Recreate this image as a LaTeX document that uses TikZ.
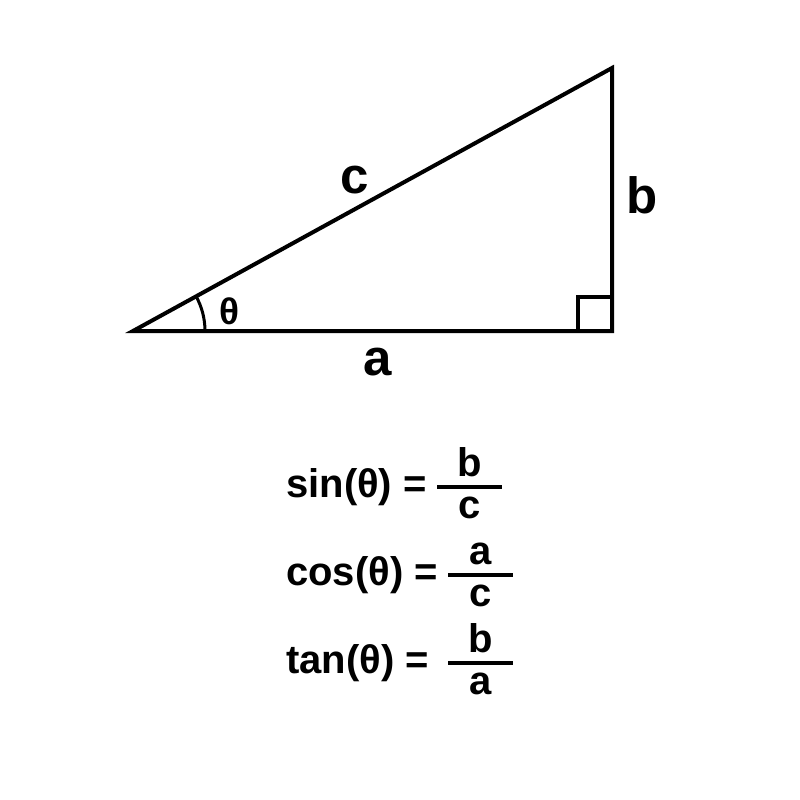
\documentclass[tikz,border=0pt]{standalone}
\usepackage{fontspec}
\setmainfont{Liberation Sans}
\usepackage{tikz}
\usetikzlibrary{calc}
\tikzstyle{side}=[draw,line width=4pt,line join=miter]
\tikzstyle{sidelabel}=[inner sep=0pt,font=\fontsize{51}{51}\selectfont\bfseries]
\tikzstyle{formula}=[inner sep=0pt,anchor=base west,font=\fontsize{40}{40}\selectfont\bfseries]
\tikzstyle{fracpart}=[inner sep=0pt,font=\fontsize{40}{40}\selectfont\bfseries]

\begin{document}
\begin{tikzpicture}[x=1pt,y=-1pt]
    \useasboundingbox (0,0) rectangle (800,800);
    % Draw the right triangle
    \coordinate (A) at (133,331);
    \coordinate (B) at (612,331);
    \coordinate (C) at (612,68);
    \path[side] (A) -- (B) -- (C) -- cycle;
    \path[side,line width=3.5pt] (578,331) |- (612,297);
    \path[side,line width=3pt] ($(A)+(72,0)$) arc[start angle=0,end angle=-28.8,radius=72];

    % Side and angle labels
    \foreach \pos/\name/\txt in {{(355,180)/c/c}, {(642,195)/b/b}, {(378,362)/a/a}}
        \node[sidelabel] (\name) at \pos {\txt};
    \node[sidelabel,font=\fontsize{37}{37}\selectfont\bfseries] (theta) at (229,311) {θ};

    % The three ratios
    \foreach \y/\fn/\num/\den/\xl/\xr in {487/sin/b/c/437/502, 575/cos/a/c/448/513, 663/tan/b/a/448/513}
    {
        \node[formula] (\fn) at (286,\y+10) {\fn(θ) =};
        \coordinate (\fn l) at (\xl,\y);
        \coordinate (\fn r) at (\xr,\y);
        \path[side,line width=4.5pt] (\fn l) -- (\fn r);
        \node[fracpart,anchor=south] (\fn num) at ($(\fn l)!0.5!(\fn r)+(0,-10)$) {\num};
        \node[fracpart,anchor=north] (\fn den) at ($(\fn l)!0.5!(\fn r)+(0,10)$) {\den};
    }
\end{tikzpicture}
\end{document}
